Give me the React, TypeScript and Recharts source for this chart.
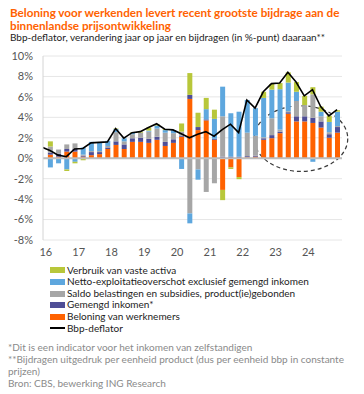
import React from 'react';
import {
  ComposedChart,
  Bar,
  Line,
  XAxis,
  YAxis,
  CartesianGrid,
  ReferenceLine,
  ReferenceArea,
} from 'recharts';

// Quarters shown as bars (2016K1 .. 2024K4)
const quarters = [
  '2016K1', '2016K2', '2016K3', '2016K4',
  '2017K1', '2017K2', '2017K3', '2017K4',
  '2018K1', '2018K2', '2018K3', '2018K4',
  '2019K1', '2019K2', '2019K3', '2019K4',
  '2020K1', '2020K2', '2020K3', '2020K4',
  '2021K1', '2021K2', '2021K3', '2021K4',
  '2022K1', '2022K2', '2022K3', '2022K4',
  '2023K1', '2023K2', '2023K3', '2023K4',
  '2024K1', '2024K2', '2024K3', '2024K4',
];

// Bbp-deflator (line) starts one quarter earlier: 2015K4 .. 2024K4
const deflatorFirstQuarter = '2015K4';
const deflator = [
  1.1,
  0.75, 0.3, 0.15, 0.9,
  0.95, 1.5, 1.55, 1.6,
  2.9, 1.97, 2.5, 2.6,
  3.0, 3.37, 2.84, 2.77,
  2.4, 2.0, 2.35, 2.6,
  2.15, 2.8, 3.33, 2.5,
  5.7, 4.9, 6.5, 7.3,
  7.35, 8.4, 7.45, 6.1,
  6.7, 5.06, 4.15, 4.75,
];

const beloning = [
  0.35, 0.15, 0.65, 0.65,
  0.15, 0.3, 0.4, 0.9,
  1.3, 0.9, 1.6, 1.6,
  1.5, 1.8, 1.2, 1.5,
  2.1, 5.8, 2.75, 3.7,
  1.8, -3.1, -0.9, -1.85,
  0.1, 0.15, 1.8, 1.96,
  2.45, 4.35, 3.6, 3.6,
  3.45, 3.0, 2.0, 2.5,
];

const gemengd = [
  0.2, 0.3, 0.25, 0.25,
  0.1, 0.3, 0.2, 0.15,
  0.35, 0.45, 0.35, 0.4,
  0.4, 0.3, 0.4, 0.35,
  0.1, 0.4, 0.3, 0.1,
  0.1, 0.15, 0.15, 0.15,
  0.1, 0.1, 0.15, 0.3,
  0.15, 0.15, 0.5, 0.5,
  0.5, 0.6, 0.35, 0.55,
];

const saldo = [
  0.6, 0.4, 0.45, 0.55,
  0.1, 0.1, 0.1, 0.15,
  0.9, 0.3, 0.4, 0.5,
  0.7, 0.8, 0.9, 0.6,
  0.4, -5.4, -1.1, -3.3,
  -2.45, 3.95, 0, 0,
  2.3, 1.95, 0.1, 1.65,
  0.2, 0.1, 1.5, 1.1,
  2.3, 0.5, 0.2, 0.1,
];

const netto = [
  -0.9, -0.5, -1.1, -0.35,
  0.7, 0.9, 0.8, 0.5,
  0.3, 0.3, 0.15, 0,
  0.1, 0.3, 0.25, 0.3,
  -1.05, -0.97, -1.0, 1.0,
  1.95, 2.9, 4.25, 4.4,
  3.2, 2.7, 3.85, 2.8,
  3.95, 2.8, 0.9, 0,
  -0.35, 0.45, 1.0, 1.4,
];

const verbruik = [
  0.5, 0, -0.15, -0.15,
  -0.2, 0, 0, 0,
  0.05, 0, 0.05, 0.1,
  0.3, 0.15, 0.1, 0,
  0.8, 2.13, 1.4, 1.1,
  0.9, -1.0, -0.15, -0.2,
  0, 0, 0.6, 0.55,
  0.6, 1.0, 0.95, 0.9,
  0.7, 0.5, 0.6, 0.15,
];

const yearLabels = ['16', '17', '18', '19', '20', '21', '22', '23', '24'];
const yTicks = [-8, -6, -4, -2, 0, 2, 4, 6, 8, 10];

// highlighted period (dashed ellipse), in quarter-index / percent units
const highlight = { from: 24.9, to: 36.3, low: -1.29, high: 5.13 };

const COLORS = {
  verbruik: '#b8c73a',
  netto: '#5ea7de',
  saldo: '#a6a6a6',
  gemengd: '#4f4e96',
  beloning: '#ff6200',
  deflator: '#000000',
};

const data = [
  { x: -1, q: deflatorFirstQuarter, deflator: deflator[0] },
  ...quarters.map((q, i) => ({
    x: i,
    q,
    beloning: beloning[i],
    gemengd: gemengd[i],
    saldo: saldo[i],
    netto: netto[i],
    verbruik: verbruik[i],
    deflator: deflator[i + 1],
  })),
];

const xTicks = yearLabels.map((_, k) => k * 4 - 0.5);

const legendItems = [
  { key: 'verbruik', label: 'Verbruik van vaste activa', type: 'bar' },
  { key: 'netto', label: 'Netto-exploitatieoverschot exclusief gemengd inkomen', type: 'bar' },
  { key: 'saldo', label: 'Saldo belastingen en subsidies, product(ie)gebonden', type: 'bar' },
  { key: 'gemengd', label: 'Gemengd inkomen*', type: 'bar' },
  { key: 'beloning', label: 'Beloning van werknemers', type: 'bar' },
  { key: 'deflator', label: 'Bbp-deflator', type: 'line' },
];

const FONT = "Lato, 'Open Sans', sans-serif";

const EllipseShape = (props: any) => {
  const { x, y, width, height } = props;
  if (x == null || y == null) return null;
  const h = Math.abs(height);
  const top = height < 0 ? y + height : y;
  return (
    <ellipse
      cx={x + width / 2}
      cy={top + h / 2}
      rx={Math.abs(width) / 2}
      ry={h / 2}
      fill="none"
      stroke="#3a3a3a"
      strokeWidth={1.2}
      strokeDasharray="4 3"
    />
  );
};

export default function App() {
  return (
    <div
      style={{
        position: 'absolute',
        left: 0,
        top: 0,
        width: 364,
        height: 394,
        background: '#fff',
        fontFamily: FONT,
        overflow: 'hidden',
      }}
    >
      <div
        style={{
          position: 'absolute',
          left: 10,
          top: 5.5,
          fontSize: 11.7,
          lineHeight: '13px',
          fontWeight: 700,
          color: '#ff6200',
          whiteSpace: 'nowrap',
        }}
      >
        <div>Beloning voor werkenden levert recent grootste bijdrage aan de</div>
        <div>binnenlandse prijsontwikkeling</div>
      </div>
      <div
        style={{
          position: 'absolute',
          left: 10,
          top: 31,
          fontSize: 10,
          lineHeight: '12px',
          color: '#222',
          whiteSpace: 'nowrap',
        }}
      >
        Bbp-deflator, verandering jaar op jaar en bijdragen (in %-punt) daaraan**
      </div>

      <div style={{ position: 'absolute', left: 0, top: 0 }}>
        <ComposedChart
          width={364}
          height={262}
          data={data}
          stackOffset="sign"
          margin={{ top: 56, right: 22, bottom: 2, left: 0 }}
        >
          <CartesianGrid vertical={false} stroke="#e6e6e6" />
          <XAxis
            dataKey="x"
            type="number"
            domain={[-0.85, 35.6]}
            allowDataOverflow
            ticks={xTicks}
            tickFormatter={(v: number) => yearLabels[Math.round((v + 0.5) / 4)] ?? ''}
            tickLine={false}
            axisLine={false}
            height={20}
            interval={0}
            tick={{ fontSize: 11, fill: '#555', fontFamily: FONT }}
          />
          <YAxis
            type="number"
            domain={[-8, 10]}
            ticks={yTicks}
            tickFormatter={(v: number) => `${v}%`}
            tickLine={false}
            axisLine={{ stroke: '#d4d4d4' }}
            width={43}
            tickMargin={4}
            interval={0}
            tick={{ fontSize: 11, fill: '#555', fontFamily: FONT }}
          />
          <ReferenceLine y={0} stroke="#bdbdbd" strokeWidth={2} />
          <Bar dataKey="beloning" stackId="a" fill={COLORS.beloning} barSize={5} isAnimationActive={false} />
          <Bar dataKey="gemengd" stackId="a" fill={COLORS.gemengd} barSize={5} isAnimationActive={false} />
          <Bar dataKey="saldo" stackId="a" fill={COLORS.saldo} barSize={5} isAnimationActive={false} />
          <Bar dataKey="netto" stackId="a" fill={COLORS.netto} barSize={5} isAnimationActive={false} />
          <Bar dataKey="verbruik" stackId="a" fill={COLORS.verbruik} barSize={5} isAnimationActive={false} />
          <Line
            dataKey="deflator"
            type="linear"
            stroke={COLORS.deflator}
            strokeWidth={1.6}
            dot={false}
            activeDot={false}
            isAnimationActive={false}
          />
          <ReferenceArea
            x1={highlight.from}
            x2={highlight.to}
            y1={highlight.low}
            y2={highlight.high}
            ifOverflow="visible"
            shape={<EllipseShape />}
          />
        </ComposedChart>
      </div>

      <div style={{ position: 'absolute', left: 50, top: 264.7 }}>
        {legendItems.map((it) => (
          <div
            key={it.key}
            style={{
              display: 'flex',
              alignItems: 'center',
              height: 11.6,
              fontSize: 10,
              lineHeight: '11.6px',
              color: '#222',
              whiteSpace: 'nowrap',
            }}
          >
            {it.type === 'bar' ? (
              <span
                style={{
                  display: 'inline-block',
                  width: 15,
                  height: 6,
                  background: (COLORS as any)[it.key],
                  marginRight: 2,
                }}
              />
            ) : (
              <span
                style={{
                  display: 'inline-block',
                  width: 15,
                  height: 2,
                  background: '#000',
                  marginRight: 2,
                }}
              />
            )}
            {it.label}
          </div>
        ))}
      </div>

      <div
        style={{
          position: 'absolute',
          left: 8,
          top: 340.7,
          fontSize: 10,
          lineHeight: '12px',
          color: '#8a8a8a',
          width: 350,
          whiteSpace: 'nowrap',
        }}
      >
        <div>*Dit is een indicator voor het inkomen van zelfstandigen</div>
        <div>**Bijdragen uitgedruk per eenheid product (dus per eenheid bbp in constante</div>
        <div>prijzen)</div>
        <div>Bron: CBS, bewerking ING Research</div>
      </div>
    </div>
  );
}
